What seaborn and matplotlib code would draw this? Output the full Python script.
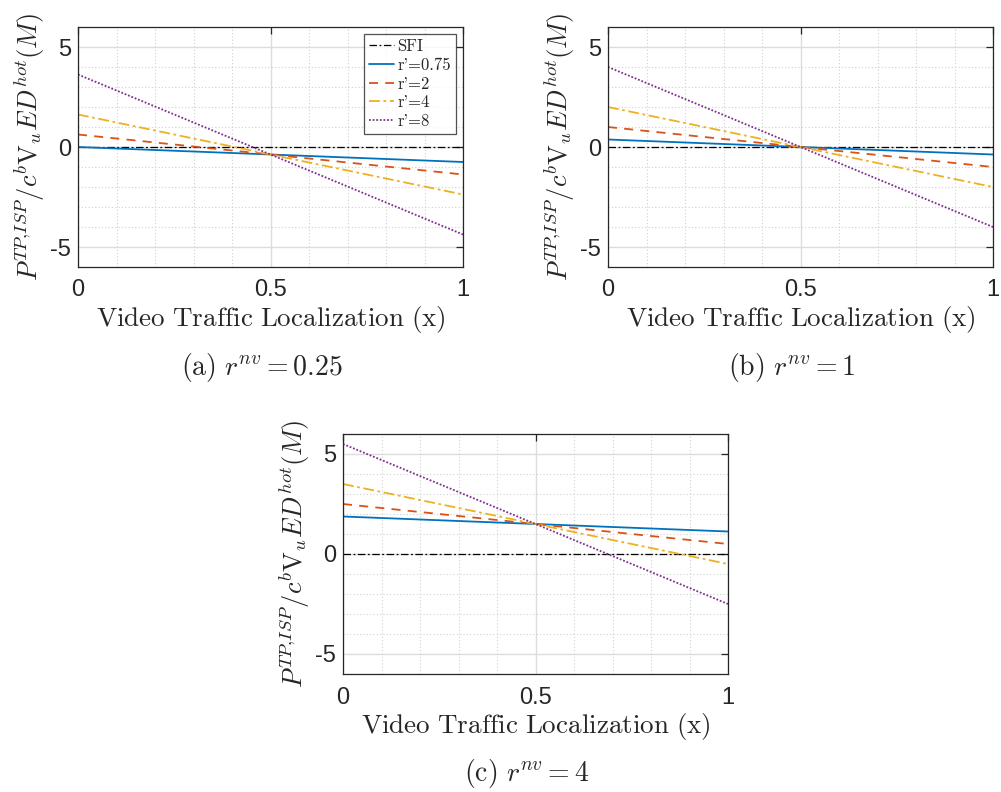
import numpy as np
import pandas as pd
import matplotlib
matplotlib.use("Agg")
import matplotlib.pyplot as plt
import seaborn as sns
from matplotlib.ticker import MultipleLocator

sns.set_theme(style="white")
plt.rcParams["font.family"] = ["Liberation Sans", "DejaVu Sans"]
plt.rcParams["mathtext.fontset"] = "cm"
plt.rcParams["axes.unicode_minus"] = False

# Localization share sampled along the x axis
x_pts = [0.0, 0.5, 1.0]

series_names = ["SFI", "r'=0.75", "r'=2", "r'=4", "r'=8"]

# Normalized profit per panel (values at x = 0, 0.5, 1)
panel_a_sfi = [0.0, 0.0, 0.0]
panel_a_r075 = [0.0, -0.375, -0.75]
panel_a_r2 = [0.625, -0.375, -1.375]
panel_a_r4 = [1.625, -0.375, -2.375]
panel_a_r8 = [3.625, -0.375, -4.375]

panel_b_sfi = [0.0, 0.0, 0.0]
panel_b_r075 = [0.375, 0.0, -0.375]
panel_b_r2 = [1.0, 0.0, -1.0]
panel_b_r4 = [2.0, 0.0, -2.0]
panel_b_r8 = [4.0, 0.0, -4.0]

panel_c_sfi = [0.0, 0.0, 0.0]
panel_c_r075 = [1.875, 1.5, 1.125]
panel_c_r2 = [2.5, 1.5, 0.5]
panel_c_r4 = [3.5, 1.5, -0.5]
panel_c_r8 = [5.5, 1.5, -2.5]

captions = [r"$\mathrm{(a)}\ r^{nv}=0.25$", r"$\mathrm{(b)}\ r^{nv}=1$",
            r"$\mathrm{(c)}\ r^{nv}=4$"]
y_ticks = [-5, 0, 5]
x_ticks = [0, 0.5, 1]
x_tick_labels = ["0", "0.5", "1"]
y_tick_labels = ["-5", "0", "5"]

colors = ["#000000", "#0072BD", "#D95319", "#EDB120", "#7E2F8E"]
dashes = [(0, (6, 2, 1.5, 2)), "-", (0, (5, 4)), (0, (6, 2, 1.5, 2)), (0, (1, 1))]

panels = [
    [panel_a_sfi, panel_a_r075, panel_a_r2, panel_a_r4, panel_a_r8],
    [panel_b_sfi, panel_b_r075, panel_b_r2, panel_b_r4, panel_b_r8],
    [panel_c_sfi, panel_c_r075, panel_c_r2, panel_c_r4, panel_c_r8],
]

W, H = 1001, 792
fig = plt.figure(figsize=(W / 100, H / 100), dpi=100)

# axes boxes in pixels: left, top, right, bottom
boxes = [(78, 27, 463, 267), (608, 27, 993, 267), (343, 434, 728, 674)]

ylab = r"$P^{TP{,}ISP}/c^b\mathrm{V}_uED^{hot}(M)$"

for i, (box, series) in enumerate(zip(boxes, panels)):
    l, t, r, b = box
    ax = fig.add_axes([l / W, 1 - b / H, (r - l) / W, (b - t) / H])
    for name, vals, c, ls in zip(series_names, series, colors, dashes):
        df = pd.DataFrame({"x": x_pts, "y": vals})
        sns.lineplot(data=df, x="x", y="y", ax=ax, color=c, linestyle=ls,
                     linewidth=1.3 if name != "SFI" else 0.9, label=name,
                     legend=False)
    ax.set_xlim(0, 1)
    ax.set_ylim(-6, 6)
    ax.set_xticks(x_ticks)
    ax.set_xticklabels(x_tick_labels)
    ax.set_yticks(y_ticks)
    ax.set_yticklabels(y_tick_labels)
    ax.xaxis.set_minor_locator(MultipleLocator(0.1))
    ax.yaxis.set_minor_locator(MultipleLocator(1))
    ax.grid(True, which="major", color="#dcdcdc", linewidth=1.0, linestyle="-")
    ax.grid(True, which="minor", color="#d0d0d0", linewidth=0.8, linestyle=(0, (1, 2)))
    ax.set_axisbelow(True)
    ax.tick_params(axis="both", which="major", direction="in", length=5,
                   width=0.9, color="#262626", top=True, right=True,
                   labelsize=17, labelcolor="#262626")
    ax.tick_params(axis="x", which="major", pad=9)
    ax.tick_params(axis="y", which="major", pad=5)
    ax.tick_params(axis="both", which="minor", length=0)
    for s in ax.spines.values():
        s.set_color("#262626")
        s.set_linewidth(0.9)
    ax.set_xlabel(r"$\mathrm{Video\ Traffic\ Localization\ (x)}$",
                  fontsize=19.5, color="#262626", labelpad=2)
    ax.set_ylabel(ylab, fontsize=19, color="#262626", labelpad=2)
    cx = ((l + r) / 2 - 9) / W
    fig.text(cx, 1 - (b + 100) / H, captions[i],
             ha="center", va="center", fontsize=20, color="#262626")
    if i == 0:
        leg = ax.legend(loc="upper right", frameon=True,
                        fancybox=False, handlelength=1.5, handletextpad=0.2,
                        borderpad=0.3, labelspacing=0.2, borderaxespad=0.2,
                        prop={"family": "cmr10", "size": 12},
                        bbox_to_anchor=(0.99, 0.985))
        leg.get_frame().set_edgecolor("#262626")
        leg.get_frame().set_linewidth(0.9)
        for txt in leg.get_texts():
            txt.set_color("#262626")

fig.savefig("out.png", dpi=100)
